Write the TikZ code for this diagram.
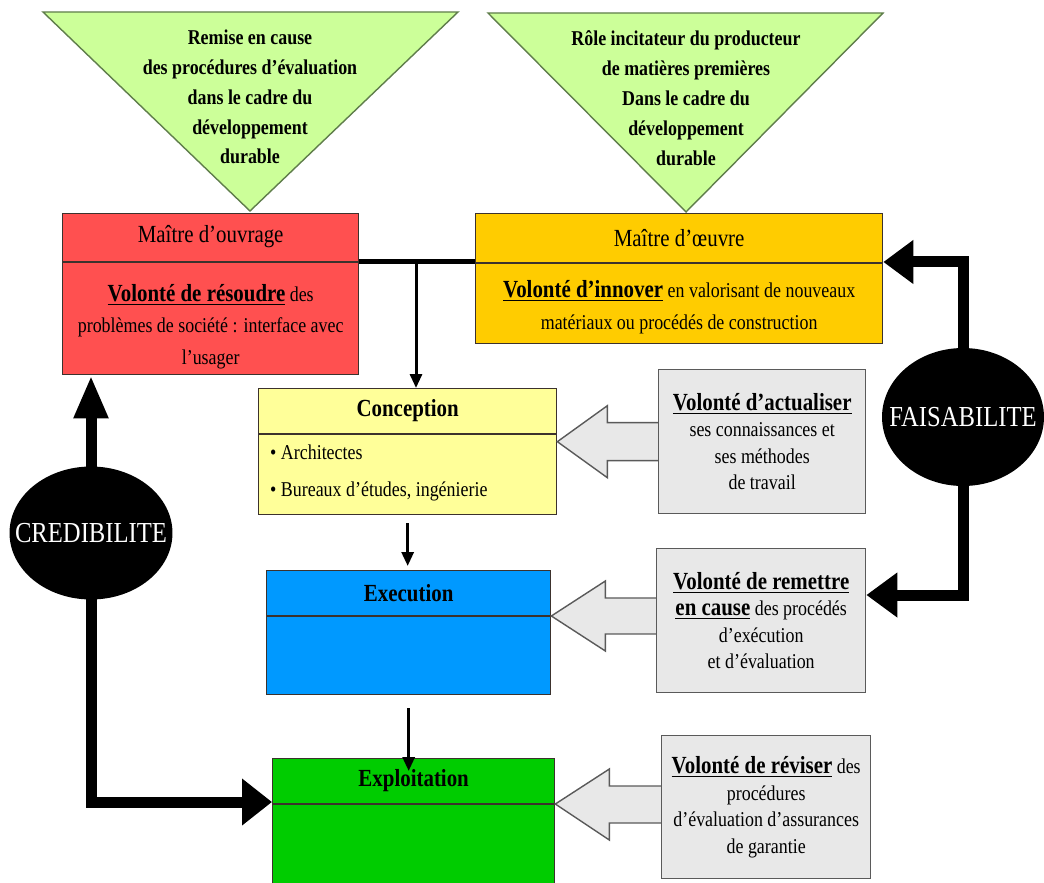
\documentclass[tikz,border=0pt]{standalone}
\usepackage{fontspec}
\setmainfont{Liberation Serif}[FakeStretch=0.85]
\usetikzlibrary{arrows.meta,shapes.geometric,positioning,calc}
\definecolor{TriGreen}{RGB}{204,255,153}
\definecolor{TriEdge}{RGB}{95,125,75}
\definecolor{BoxRed}{RGB}{255,80,80}
\definecolor{BoxOrange}{RGB}{255,204,0}
\definecolor{BoxYellow}{RGB}{255,255,153}
\definecolor{BoxBlue}{RGB}{0,153,255}
\definecolor{BoxGreen}{RGB}{0,204,0}
\definecolor{BoxGray}{RGB}{232,232,232}
\definecolor{EdgeDark}{RGB}{60,50,45}
\definecolor{EdgeGray}{RGB}{90,90,90}

\newcommand{\volonte}[1]{\underline{\fontsize{14}{16}\selectfont\bfseries #1}}

\begin{document}
\begin{tikzpicture}[x=0.02cm,y=-0.02cm,
  phase style/.style={
    draw=EdgeDark,
    fill=#1,
    line width=0.8pt,
    rectangle,
    anchor=north west,
    inner sep=0pt,
  },
  note style/.style={
    draw=EdgeGray,
    fill=BoxGray,
    line width=0.8pt,
    rectangle,
    anchor=north west,
    align=center,
    font=\fontsize{12}{15}\selectfont,
  },
  tri style/.style={
    draw=TriEdge,
    fill=TriGreen,
    line width=0.8pt,
  },
  tri text/.style={
    align=center,
    font=\fontsize{12}{17}\selectfont\bfseries,
  },
  title text/.style={
    font=\fontsize{14}{16}\selectfont#1,
  },
  body text/.style={
    align=center,
    font=\fontsize{12}{18}\selectfont,
  },
  value style/.style={
    ellipse,
    fill=black,
    inner sep=0pt,
  },
  value text/.style={
    text=white,
    font=\fontsize{16.5}{18}\selectfont,
  },
  divider/.style={draw=EdgeDark, line width=0.8pt},
  gray arrow/.style={draw=EdgeGray, fill=BoxGray, line width=0.8pt},
  big arrow/.style={line width=0.22cm, line join=miter},
  flow/.style={line width=0.06cm, -{Triangle[length=0.28cm,width=0.24cm]}},
]
\useasboundingbox (0,0) rectangle (1044,882);

% triangles on top
\draw[tri style] (43,12) -- (458,12) -- (250,211) -- cycle;
\node[tri text] (T1) at (250,97) {Remise en cause\\des procédures d’évaluation\\dans le cadre du\\développement\\durable};
\draw[tri style] (488,13) -- (883,13) -- (686,212) -- cycle;
\node[tri text] (T2) at (686,98) {Rôle incitateur du producteur\\de matières premières\\Dans le cadre du\\développement\\durable};

% actors
\node[phase style=BoxRed, minimum width=5.92cm, minimum height=3.22cm] (MO) at (62,213) {};
\draw[divider] ([yshift=-0.98cm]MO.north west) -- ([yshift=-0.98cm]MO.north east);
\node[title text] (MO-title) at ([yshift=-0.48cm]MO.north) {Maître d’ouvrage};
\node[body text] (MO-body) at ([yshift=0.98cm]MO.south) {\volonte{Volonté de résoudre} des\\problèmes de société : interface avec\\l’usager};

\node[phase style=BoxOrange, minimum width=8.14cm, minimum height=2.6cm] (ME) at (475,213) {};
\draw[divider] ([yshift=-1cm]ME.north west) -- ([yshift=-1cm]ME.north east);
\node[title text] (ME-title) at ([yshift=-0.5cm]ME.north) {Maître d’œuvre};
\node[body text] (ME-body) at ([yshift=0.74cm]ME.south) {\volonte{Volonté d’innover} en valorisant de nouveaux\\matériaux ou procédés de construction};

% phases
\node[phase style=BoxYellow, minimum width=5.96cm, minimum height=2.52cm] (CONC) at (258,388) {};
\draw[divider] ([yshift=-0.92cm]CONC.north west) -- ([yshift=-0.92cm]CONC.north east);
\node[title text=\bfseries] (CONC-title) at ([yshift=-0.46cm]CONC.north) {Conception};
\node[body text, align=left, anchor=west] (CONC-body) at (264,473) {\textbullet{} Architectes\\[0.1cm]\textbullet{} Bureaux d’études, ingénierie};

\node[phase style=BoxBlue, minimum width=5.68cm, minimum height=2.48cm] (EXE) at (266,570) {};
\draw[divider] ([yshift=-0.92cm]EXE.north west) -- ([yshift=-0.92cm]EXE.north east);
\node[title text=\bfseries] (EXE-title) at ([yshift=-0.46cm]EXE.north) {Execution};

\node[phase style=BoxGreen, minimum width=5.64cm, minimum height=2.6cm] (EXP) at (272,758) {};
\draw[divider] ([yshift=-0.92cm]EXP.north west) -- ([yshift=-0.92cm]EXP.north east);
\node[title text=\bfseries] (EXP-title) at ([yshift=-0.46cm]EXP.north) {Exploitation};

% links between actors and phases
\coordinate (split) at (416,262);
\draw[line width=0.1cm] ([yshift=-0.98cm]MO.north east) -- ([yshift=-0.98cm]ME.north west);
\draw[flow] (split) -- (split |- CONC.north);
\draw[flow] ([yshift=-0.16cm]CONC.south) -- ([yshift=0.08cm]CONC.south |- EXE.north);
\draw[flow] ([yshift=-0.26cm]EXE.south) -- ([yshift=-0.26cm]EXE.south |- EXP.north);

% hollow arrows
\filldraw[gray arrow] ([yshift=0.2cm]CONC.east) -- ++(50,-36) -- ++(0,17) -- ++(56,0) -- ++(0,38) -- ++(-56,0) -- ++(0,17) -- cycle;
\filldraw[gray arrow] ([yshift=-0.92cm]EXE.north east) -- ++(54,-35) -- ++(0,17) -- ++(56,0) -- ++(0,36) -- ++(-56,0) -- ++(0,17) -- cycle;
\filldraw[gray arrow] ([yshift=-0.92cm]EXP.north east) -- ++(54,-35) -- ++(0,17) -- ++(56,0) -- ++(0,37) -- ++(-56,0) -- ++(0,17) -- cycle;

% notes
\node[note style, minimum width=4.14cm, minimum height=2.88cm] (G1) at (658,369) {\volonte{Volonté d’actualiser}\\ses connaissances et\\ses méthodes\\de travail};
\node[note style, minimum width=4.18cm, minimum height=2.88cm] (G2) at (656,548) {\volonte{Volonté de remettre}\\\volonte{en cause} des procédés\\d’exécution\\et d’évaluation};
\node[note style, minimum width=4.18cm, minimum height=2.86cm] (G3) at (661,735) {\volonte{Volonté de réviser} des\\procédures\\d’évaluation d’assurances\\de garantie};

% values
\node[value style, minimum width=3.24cm, minimum height=2.76cm] (FAIS) at (963,417) {};
\node[value text] (FAIS-text) at (FAIS) {FAISABILITE};
\node[value style, minimum width=3.26cm, minimum height=2.66cm] (CRED) at (91,533) {};
\node[value text] (CRED-text) at (CRED) {CREDIBILITE};

\coordinate (fais-low) at (900,595);
\coordinate (cred-low) at (200,802);
\draw[big arrow, -{Triangle[length=0.6cm,width=0.84cm]}] ([yshift=-3pt]FAIS.north) -- ([yshift=-0.98cm]FAIS.north |- ME.north) -- ([yshift=-0.98cm]ME.north east);
\draw[big arrow, -{Triangle[length=0.62cm,width=0.86cm]}] ([yshift=3pt]FAIS.south) -- (FAIS.south |- fais-low) -- (G2.east |- fais-low);
\draw[big arrow, -{Triangle[length=0.86cm,width=0.64cm]}] ([yshift=-3pt]CRED.north) -- (CRED.north |- MO.south);
\draw[big arrow, -{Triangle[length=0.6cm,width=0.9cm]}] ([yshift=3pt]CRED.south) -- (CRED.south |- cred-low) -- (EXP.west |- cred-low);

\end{tikzpicture}
\end{document}
